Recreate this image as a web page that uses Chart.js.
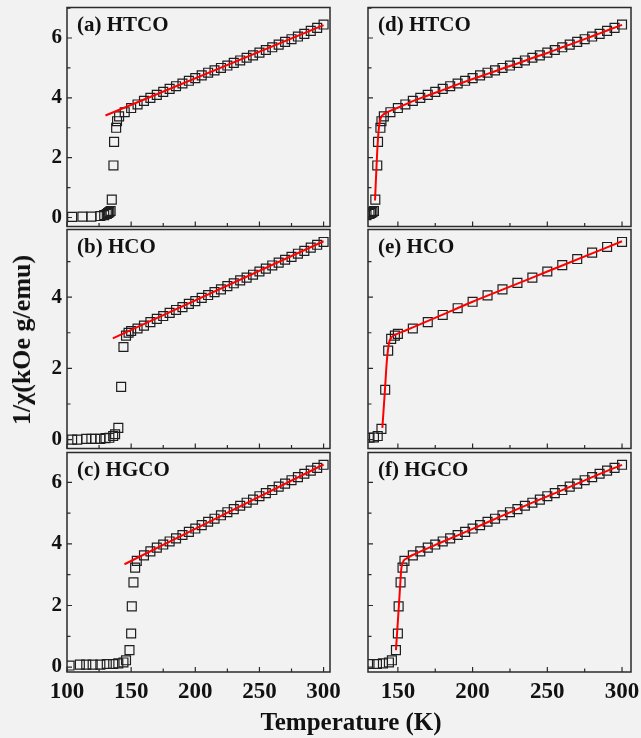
<!DOCTYPE html>
<html>
<head>
<meta charset="utf-8">
<script src="https://cdn.jsdelivr.net/npm/chart.js@4"></script>
<style>
  body { margin: 0; background: #f2f2f2; }
  #wrap { position: relative; width: 641px; height: 738px; overflow: hidden; }
  canvas { position: absolute; }
  .title { position: absolute; font: bold 25px "Liberation Serif", serif; color: #111; white-space: nowrap; }
  #ytitle { left: 22px; top: 340px; font-size: 26px; transform: translate(-50%, -50%) rotate(-90deg); }
  #xtitle { left: 351px; top: 722px; transform: translate(-50%, -50%); }
</style>
</head>
<body>
<div id="wrap">
  <canvas id="pa"></canvas>
  <canvas id="pb"></canvas>
  <canvas id="pc"></canvas>
  <canvas id="pd"></canvas>
  <canvas id="pe"></canvas>
  <canvas id="pf"></canvas>
  <div class="title" id="ytitle">1/χ(kOe g/emu)</div>
  <div class="title" id="xtitle">Temperature (K)</div>
</div>
<script>
// HTCO, panels (a) and (d)
const tempHTCO = [104, 112, 119, 126, 129, 131, 132, 133, 134, 134.9, 136.2, 136.7, 138.3, 139, 140.6,
  145, 150, 155, 160, 165, 170, 175, 180, 185, 190, 195, 200, 205, 210, 215, 220, 225, 230, 235, 240,
  245, 250, 255, 260, 265, 270, 275, 280, 285, 290, 295, 300];
const chiHTCO = [0.02, 0.03, 0.03, 0.05, 0.08, 0.12, 0.15, 0.18, 0.22, 0.6, 1.74, 2.53, 3.0, 3.22, 3.38,
  3.52, 3.66, 3.78, 3.9, 4.0, 4.1, 4.2, 4.3, 4.39, 4.48, 4.57, 4.66, 4.75, 4.84, 4.92, 5.0, 5.08, 5.17, 5.25, 5.34,
  5.42, 5.51, 5.6, 5.69, 5.78, 5.87, 5.96, 6.05, 6.14, 6.24, 6.34, 6.45];

// HCO, panel (b)
const tempHCO = [104, 108, 115, 119, 122, 126, 130, 133, 136, 137.5, 140, 142.2, 144, 146, 148,
  150, 155, 160, 165, 170, 175, 180, 185, 190, 195, 200, 205, 210, 215, 220, 225, 230, 235, 240,
  245, 250, 255, 260, 265, 270, 275, 280, 285, 290, 295, 300];
const chiHCO = [0.0, 0.0, 0.02, 0.02, 0.02, 0.02, 0.04, 0.05, 0.1, 0.15, 0.33, 1.48, 2.6, 2.92, 3.0,
  3.05, 3.12, 3.2, 3.3, 3.39, 3.47, 3.56, 3.64, 3.72, 3.81, 3.89, 3.98, 4.06, 4.14, 4.22, 4.31, 4.39, 4.47, 4.55,
  4.63, 4.72, 4.8, 4.89, 4.97, 5.05, 5.13, 5.22, 5.3, 5.39, 5.47, 5.55];

// HCO, panel (e) (sparser points)
const tempHCOe = [131, 134, 136.5, 139, 141.5, 143.5, 145.5, 148, 150, 160, 170, 180, 190, 200,
  210, 220, 230, 240, 250, 260, 270, 280, 290, 300];
const chiHCOe = [0.05, 0.06, 0.1, 0.3, 1.4, 2.5, 2.83, 2.92, 2.97, 3.12, 3.3, 3.5, 3.69, 3.87,
  4.05, 4.22, 4.4, 4.55, 4.72, 4.9, 5.07, 5.25, 5.41, 5.55];

// HGCO, panels (c) and (f)
const tempHGCO = [102, 110, 115, 120, 126, 131, 136, 140, 144, 146, 148.7, 150, 150.5, 151.8, 153.1, 154.4,
  160, 165, 170, 175, 180, 185, 190, 195, 200, 205, 210, 215, 220, 225, 230, 235, 240, 245, 250,
  255, 260, 265, 270, 275, 280, 285, 290, 295, 300];
const chiHGCO = [0.05, 0.08, 0.08, 0.08, 0.08, 0.1, 0.1, 0.12, 0.15, 0.22, 0.55, 1.09, 1.97, 2.75, 3.23, 3.45,
  3.63, 3.76, 3.88, 3.98, 4.08, 4.18, 4.29, 4.39, 4.5, 4.61, 4.72, 4.82, 4.93, 5.03, 5.13, 5.24, 5.34, 5.44, 5.55,
  5.65, 5.75, 5.86, 5.96, 6.07, 6.17, 6.28, 6.38, 6.47, 6.57];

// red fits
const fitTempA = [130, 300];     const fitChiA = [3.41, 6.43];
const fitTempB = [135.7, 300];   const fitChiB = [2.84, 5.57];
const fitTempC = [144.8, 300];   const fitChiC = [3.34, 6.58];
const fitTempD = [134.7, 135.6, 136.5, 137.4, 138.5, 140, 143, 147, 150, 160, 170, 180, 190, 200,
  210, 220, 230, 240, 250, 260, 270, 280, 290, 300];
const fitChiD = [0.57, 1.6, 2.5, 3.05, 3.32, 3.43, 3.52, 3.61, 3.67, 3.89, 4.08, 4.26, 4.45, 4.63,
  4.8, 4.98, 5.15, 5.33, 5.5, 5.69, 5.87, 6.06, 6.25, 6.44];
const fitTempE = [139.6, 141.2, 142.6, 144, 145.5, 148, 152, 160, 180, 200, 220, 240, 260, 280, 300];
const fitChiE = [0.33, 1.3, 2.2, 2.7, 2.86, 2.94, 3.01, 3.15, 3.51, 3.87, 4.21, 4.55, 4.89, 5.23, 5.57];
const fitTempF = [148.7, 150, 151.2, 152.3, 153.5, 155.5, 160, 180, 200, 220, 240, 260, 280, 300];
const fitChiF = [0.55, 1.5, 2.4, 3.2, 3.42, 3.52, 3.64, 4.07, 4.49, 4.92, 5.34, 5.75, 6.17, 6.57];

const SERIF = '"Liberation Serif", "Times New Roman", serif';
Chart.defaults.font.family = SERIF;

function pts(xs, ys) {
  return xs.map((x, i) => ({ x: x, y: ys[i] }));
}

// frame, inward ticks and the panel label
const frameTicks = {
  id: 'frameTicks',
  afterDraw(chart, args, opts) {
    const { ctx, chartArea: a } = chart;
    const x = chart.scales.x, y = chart.scales.y;
    ctx.save();
    ctx.strokeStyle = '#2a2a2a';
    ctx.lineWidth = 1.2;
    ctx.beginPath();
    for (const t of x.ticks) {
      const px = x.getPixelForValue(t.value);
      const len = t.value % 50 === 0 ? 5 : 3.5;
      ctx.moveTo(px, a.bottom);
      ctx.lineTo(px, a.bottom - len);
    }
    for (const t of y.ticks) {
      const py = y.getPixelForValue(t.value);
      const len = t.value % 2 === 0 ? 5 : 3.5;
      ctx.moveTo(a.left, py);
      ctx.lineTo(a.left + len, py);
    }
    ctx.stroke();
    ctx.lineWidth = 1.5;
    ctx.strokeRect(a.left, a.top, a.right - a.left, a.bottom - a.top);
    ctx.fillStyle = '#111';
    ctx.font = 'bold 21px ' + SERIF;
    ctx.textBaseline = 'alphabetic';
    ctx.fillText(opts.label, a.left + 10, a.top + 23);
    ctx.restore();
  }
};

function makePanel(id, p) {
  const cv = document.getElementById(id);
  cv.style.left = p.left + 'px';
  cv.style.top = p.top + 'px';
  cv.width = p.w;
  cv.height = p.h;
  cv.style.width = p.w + 'px';
  cv.style.height = p.h + 'px';

  return new Chart(cv, {
    type: 'scatter',
    data: {
      datasets: [{
        data: pts(p.fitT, p.fitV),
        showLine: true,
        borderColor: '#ff0000',
        borderWidth: 2,
        pointRadius: 0,
        cubicInterpolationMode: 'monotone',
        order: 0
      }, {
        data: pts(p.T, p.V),
        pointStyle: 'rect',
        pointRadius: 6.3,
        pointBorderWidth: 1.2,
        borderColor: '#1e1e1e',
        backgroundColor: 'rgba(0,0,0,0)',
        showLine: false,
        order: 1
      }]
    },
    options: {
      responsive: false,
      animation: false,
      events: [],
      layout: { padding: { top: p.padTop, right: p.padRight, bottom: 0, left: 0 } },
      plugins: {
        legend: { display: false },
        tooltip: { enabled: false },
        frameTicks: { label: p.label }
      },
      scales: {
        x: {
          type: 'linear',
          min: p.xmin, max: p.xmax,
          grid: { display: false, drawTicks: false },
          border: { display: false },
          ticks: {
            display: p.xLabels,
            stepSize: 25,
            includeBounds: false,
            padding: 6,
            color: '#111',
            font: { size: 23, weight: 'bold' },
            maxRotation: 0,
            autoSkip: false,
            callback: v => (v % 50 === 0 ? v : '')
          },
          afterFit: s => { s.height = p.xh; s.paddingLeft = 0; s.paddingRight = 0; }
        },
        y: {
          min: p.ymin, max: p.ymax,
          grid: { display: false, drawTicks: false },
          border: { display: false },
          ticks: {
            display: p.yLabels,
            stepSize: 1,
            includeBounds: false,
            padding: 5,
            color: '#111',
            font: { size: 21, weight: 'bold' },
            autoSkip: false,
            callback: v => (v % 2 === 0 ? v : '')
          },
          afterFit: s => { s.width = p.yw; s.paddingTop = 0; s.paddingBottom = 0; }
        }
      }
    },
    plugins: [frameTicks]
  });
}

const leftCol = { left: 0, w: 350, yw: 67, padRight: 20, xmin: 100, xmax: 305, yLabels: true };
const rightCol = { left: 336, w: 305, yw: 32, padRight: 10, xmin: 130, xmax: 306, yLabels: false };
const row1 = { top: 0, h: 234, padTop: 5, xh: 6, ymin: -0.3, ymax: 7.02, xLabels: false };
const row2 = { top: 222, h: 234, padTop: 6, xh: 5, ymin: -0.25, ymax: 5.9, xLabels: false };
const row3 = { top: 445, h: 293, padTop: 6, xh: 66, ymin: -0.16, ymax: 6.97, xLabels: true };

makePanel('pa', Object.assign({}, leftCol, row1, { label: '(a) HTCO', T: tempHTCO, V: chiHTCO, fitT: fitTempA, fitV: fitChiA }));
makePanel('pb', Object.assign({}, leftCol, row2, { label: '(b) HCO', T: tempHCO, V: chiHCO, fitT: fitTempB, fitV: fitChiB }));
makePanel('pc', Object.assign({}, leftCol, row3, { label: '(c) HGCO', T: tempHGCO, V: chiHGCO, fitT: fitTempC, fitV: fitChiC }));
makePanel('pd', Object.assign({}, rightCol, row1, { label: '(d) HTCO', T: tempHTCO, V: chiHTCO, fitT: fitTempD, fitV: fitChiD }));
makePanel('pe', Object.assign({}, rightCol, row2, { label: '(e) HCO', T: tempHCOe, V: chiHCOe, fitT: fitTempE, fitV: fitChiE }));
makePanel('pf', Object.assign({}, rightCol, row3, { label: '(f) HGCO', T: tempHGCO, V: chiHGCO, fitT: fitTempF, fitV: fitChiF }));
</script>
</body>
</html>
